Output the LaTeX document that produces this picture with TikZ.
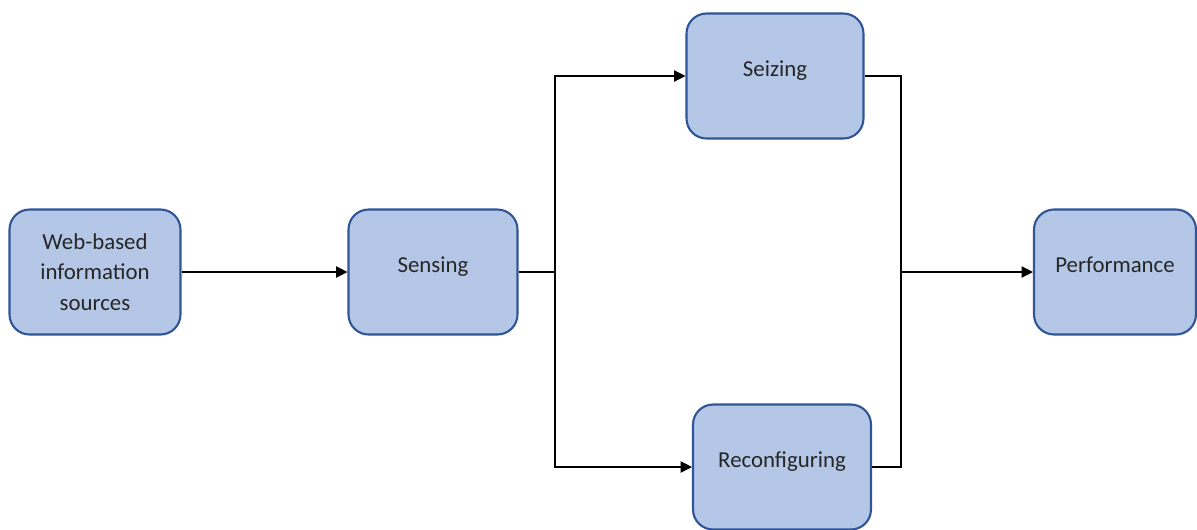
\documentclass[tikz,border=0pt]{standalone}
\usepackage{fontspec}
\setmainfont{Carlito}
\usepackage{tikz}
\usetikzlibrary{arrows.meta}
\definecolor{boxfill}{HTML}{B4C7E7}
\definecolor{boxline}{HTML}{2F5597}

\begin{document}
\begin{tikzpicture}[x=0.02cm, y=-0.02cm,
  box/.style={draw=boxline, fill=boxfill, line width=1.2pt, rounded corners=0.4cm,
    minimum height=2.5cm, align=center, font=\fontsize{13}{17.5}\selectfont, text=black!85},
  onebox/.style={box, text height=8pt, text depth=8pt},
  arr/.style={-{Triangle[length=6.5pt,width=6.5pt]}, line width=0.6pt}]

  \useasboundingbox (0,0) rectangle (1197,529);

  % the five boxes
  \node[box, minimum width=3.42cm] (web) at (95,272) {Web-based\\information\\sources};
  \node[onebox, minimum width=3.38cm] (sens) at (433,272) {Sensing};
  \node[onebox, minimum width=3.54cm] (seiz) at (775,76) {Seizing};
  \node[onebox, minimum width=3.56cm] (reco) at (782,467) {Reconfiguring};
  \node[onebox, minimum width=3.24cm] (perf) at (1115,272) {Performance};

  \coordinate (split) at (555,272);
  \coordinate (join) at (901,272);

  \draw[arr] (web) -- (sens);
  \draw[line width=0.6pt] (sens.east) -- (split);
  \draw[arr] (split) |- (seiz.west); % up
  \draw[arr] (split) |- (reco.west); % down

  \draw[line width=0.6pt] (seiz.east) -| (join);
  \draw[line width=0.6pt] (reco.east) -| (join);
  \draw[arr] (join) -- (perf);

\end{tikzpicture}
\end{document}
